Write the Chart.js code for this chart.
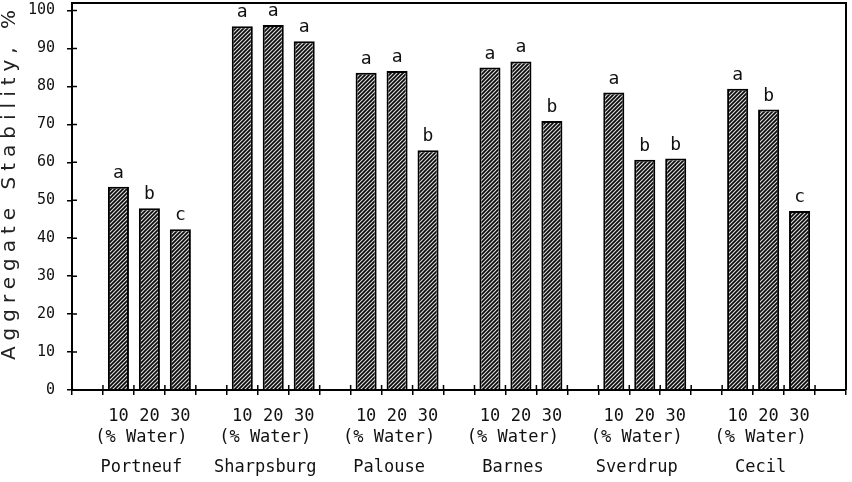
<!DOCTYPE html>
<html>
<head>
<meta charset="utf-8">
<script src="https://cdn.jsdelivr.net/npm/chart.js@4/dist/chart.umd.min.js"></script>
<style>
  html, body { margin: 0; padding: 0; background: #fff; }
  #wrap { width: 852px; height: 482px; }
</style>
</head>
<body>
<div id="wrap"><canvas id="stabilityChart" width="852" height="482"></canvas></div>
<script>
// soils and water contents
const soils = ['Portneuf', 'Sharpsburg', 'Palouse', 'Barnes', 'Sverdrup', 'Cecil'];
const waterLevels = ['10', '20', '30'];

// aggregate stability (%) at 10, 20, 30 % water
const portneuf   = [53.6, 47.9, 42.4];
const sharpsburg = [95.9, 96.2, 91.9];
const palouse    = [83.6, 84.1, 63.2];
const barnes     = [85.0, 86.6, 70.9];
const sverdrup   = [78.4, 60.7, 61.0];
const cecil      = [79.4, 73.9, 47.2];

// significance letters
const portneufSig   = ['a', 'b', 'c'];
const sharpsburgSig = ['a', 'a', 'a'];
const palouseSig    = ['a', 'a', 'b'];
const barnesSig     = ['a', 'a', 'b'];
const sverdrupSig   = ['a', 'b', 'b'];
const cecilSig      = ['a', 'b', 'c'];

const yTicks = [0, 10, 20, 30, 40, 50, 60, 70, 80, 90, 100];

const stability = [portneuf, sharpsburg, palouse, barnes, sverdrup, cecil];
const letters = [portneufSig, sharpsburgSig, palouseSig, barnesSig, sverdrupSig, cecilSig];

// build one slot per bar, with an empty slot before each soil group and at the end
const labels = [];
const values = [];
const sig = [];
soils.forEach((soil, i) => {
    labels.push('');
    values.push(null);
    sig.push('');
    waterLevels.forEach((w, j) => {
        labels.push(w);
        values.push(stability[i][j]);
        sig.push(letters[i][j]);
    });
});
labels.push('');
values.push(null);
sig.push('');

function makeHatch() {
    const s = 4;
    const c = document.createElement('canvas');
    c.width = s;
    c.height = s;
    const g = c.getContext('2d');
    g.fillStyle = '#dcdcdc';
    g.fillRect(0, 0, s, s);
    g.strokeStyle = '#0a0a0a';
    g.lineWidth = 1.7;
    g.beginPath();
    g.moveTo(0, s); g.lineTo(s, 0);
    g.moveTo(-1, 1); g.lineTo(1, -1);
    g.moveTo(s - 1, s + 1); g.lineTo(s + 1, s - 1);
    g.stroke();
    return g.createPattern(c, 'repeat');
}

const monoFont = "'DejaVu Sans Mono', monospace";

// box, inner tick halves, letters, group labels, y title
const decorations = {
    id: 'decorations',
    afterDraw(chart) {
        const ctx = chart.ctx;
        const area = chart.chartArea;
        const x = chart.scales.x;
        const y = chart.scales.y;
        ctx.save();
        ctx.strokeStyle = '#000';
        ctx.lineWidth = 2;
        ctx.beginPath();
        ctx.moveTo(area.left, area.top);
        ctx.lineTo(area.right, area.top);
        ctx.lineTo(area.right, area.bottom);
        ctx.stroke();

        // inner halves of tick marks
        ctx.lineWidth = 1.5;
        ctx.beginPath();
        yTicks.forEach(v => {
            const py = y.getPixelForValue(v);
            ctx.moveTo(area.left, py);
            ctx.lineTo(area.left + 5, py);
        });
        const slot = (area.right - area.left) / labels.length;
        for (let i = 0; i <= labels.length; i++) {
            const px = area.left + i * slot;
            ctx.moveTo(px, area.bottom);
            ctx.lineTo(px, area.bottom - 5);
        }
        ctx.stroke();

        // significance letters
        const meta = chart.getDatasetMeta(0);
        ctx.fillStyle = '#111';
        ctx.font = '18px ' + monoFont;
        ctx.textAlign = 'center';
        ctx.textBaseline = 'alphabetic';
        meta.data.forEach((bar, i) => {
            if (sig[i] && values[i] !== null) {
                ctx.fillText(sig[i], bar.x, bar.y - 9);
            }
        });

        // group labels under the axis
        ctx.font = '17px ' + monoFont;
        ctx.textBaseline = 'middle';
        soils.forEach((soil, i) => {
            const px = x.getPixelForValue(i * 4 + 2) - 8;
            ctx.fillText('(% Water)', px, area.bottom + 48);
            ctx.fillText(soil, px, area.bottom + 78);
        });

        // y axis title, widely spaced
        ctx.font = "20px 'DejaVu Sans', sans-serif";
        ctx.fillStyle = '#222';
        ctx.letterSpacing = '6px';
        ctx.translate(15, 182);
        ctx.rotate(-Math.PI / 2);
        ctx.textAlign = 'center';
        ctx.textBaseline = 'alphabetic';
        ctx.fillText('Aggregate Stability, %', 0, 0);
        ctx.restore();
    }
};

const ctx = document.getElementById('stabilityChart').getContext('2d');

const chart = new Chart(ctx, {
    type: 'bar',
    data: {
        labels: labels,
        datasets: [{
            data: values,
            backgroundColor: makeHatch(),
            borderColor: '#000',
            borderWidth: 2,
            borderSkipped: 'bottom',
            barPercentage: 0.68,
            categoryPercentage: 1
        }]
    },
    options: {
        responsive: false,
        animation: false,
        devicePixelRatio: 1,
        layout: {
            padding: { top: 3, right: 6, left: 0, bottom: 0 }
        },
        plugins: {
            legend: { display: false },
            title: { display: false },
            tooltip: { enabled: false }
        },
        scales: {
            x: {
                type: 'category',
                offset: true,
                border: { color: '#000', width: 2 },
                grid: {
                    offset: true,
                    drawOnChartArea: false,
                    drawTicks: true,
                    tickLength: 5,
                    color: '#000',
                    lineWidth: 1.5
                },
                ticks: {
                    autoSkip: false,
                    maxRotation: 0,
                    minRotation: 0,
                    padding: 11,
                    color: '#111',
                    font: { family: monoFont, size: 17 }
                },
                afterFit(scale) {
                    scale.height = 92;
                    scale.paddingLeft = 0;
                    scale.paddingRight = 0;
                }
            },
            y: {
                min: 0,
                max: 102,
                border: { color: '#000', width: 2 },
                grid: {
                    drawOnChartArea: false,
                    drawTicks: true,
                    tickLength: 5,
                    color: '#000',
                    lineWidth: 1.5
                },
                ticks: {
                    stepSize: 10,
                    padding: 12,
                    color: '#111',
                    font: { family: monoFont, size: 15 }
                },
                afterBuildTicks(scale) {
                    scale.ticks = yTicks.map(v => ({ value: v }));
                },
                afterFit(scale) {
                    scale.width = 72;
                    scale.paddingTop = 0;
                    scale.paddingBottom = 0;
                }
            }
        }
    },
    plugins: [decorations]
});
</script>
</body>
</html>
